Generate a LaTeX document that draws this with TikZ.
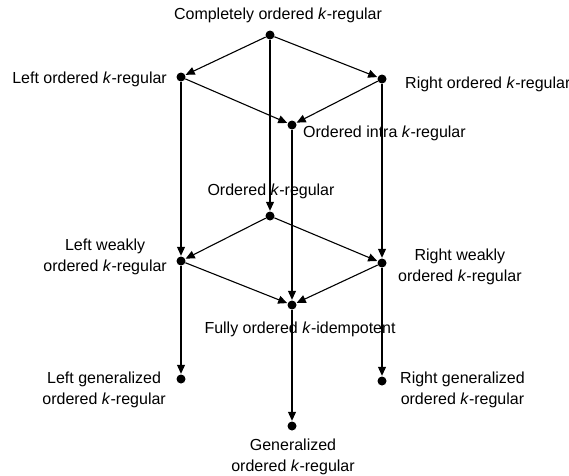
\documentclass[tikz,border=0pt]{standalone}
\usepackage{fontspec}
\setmainfont{Liberation Sans}
\usetikzlibrary{arrows.meta}

\begin{document}
\begin{tikzpicture}[x=1pt,y=-1pt,
    dot/.style={circle,fill=black,inner sep=0pt,minimum size=9pt},
    lbl/.style={inner sep=0pt,font=\fontsize{16}{21}\selectfont,align=center},
    arr/.style={line width=1.1pt,-{Triangle[length=9pt,width=8pt]},shorten >=0.5pt}]
    \useasboundingbox (0,0) rectangle (569,475);

    % points
    \node[dot](top) at (270,35) {};
    \node[dot](lo) at (181,77) {};
    \node[dot](ro) at (382,79) {};
    \node[dot](intra) at (292,125) {};
    \node[dot](ordk) at (270,216) {};
    \node[dot](lw) at (181,261) {};
    \node[dot](rw) at (382,263) {};
    \node[dot](fully) at (292,305) {};
    \node[dot](lg) at (181,379) {};
    \node[dot](rg) at (382,381) {};
    \node[dot](gen) at (292,426) {};

    % labels
    \node[lbl](ttop) at (278,15) {Completely ordered \textit{k}-regular};
    \node[lbl,anchor=east](tlo) at (167,79) {Left ordered \textit{k}-regular};
    \node[lbl,anchor=west](tro) at (405,84) {Right ordered \textit{k}-regular};
    \node[lbl,anchor=west](tintra) at (303,133) {Ordered intra \textit{k}-regular};
    \node[lbl](tordk) at (271,191) {Ordered \textit{k}-regular};
    \node[lbl,anchor=east](tlw) at (167,257) {Left weakly\\ordered \textit{k}-regular};
    \node[lbl,anchor=west](trw) at (398,267) {Right weakly\\ordered \textit{k}-regular};
    \node[lbl](tfully) at (300,329) {Fully ordered \textit{k}-idempotent};
    \node[lbl,anchor=east](tlg) at (166,390) {Left generalized\\ordered \textit{k}-regular};
    \node[lbl,anchor=west](trg) at (400,390) {Right generalized\\ordered \textit{k}-regular};
    \node[lbl](tgen) at (293,457) {Generalized\\ordered \textit{k}-regular};

    % arrows
    \draw[arr] (top) -- (lo);
    \draw[arr] (top) -- (ro);
    \draw[arr] (top) -- (ordk);
    \draw[arr] (lo) -- (intra);
    \draw[arr] (ro) -- (intra);
    \draw[arr] (lo) -- (lw);
    \draw[arr] (ro) -- (rw);
    \draw[arr] (intra) -- (fully);
    \draw[arr] (ordk) -- (lw);
    \draw[arr] (ordk) -- (rw);
    \draw[arr] (lw) -- (fully);
    \draw[arr] (rw) -- (fully);
    \draw[arr] (lw) -- (lg);
    \draw[arr] (rw) -- (rg);
    \draw[arr] (fully) -- (gen);
\end{tikzpicture}
\end{document}
